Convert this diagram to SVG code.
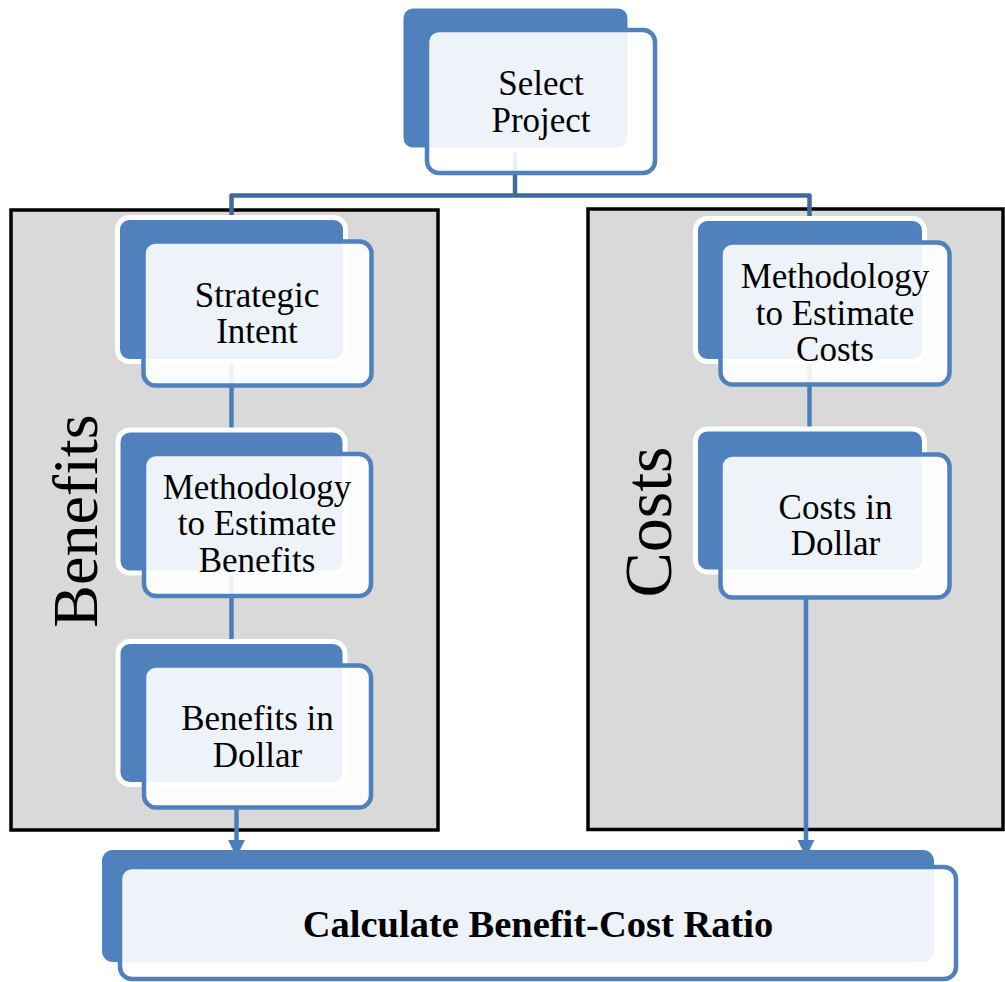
<svg xmlns="http://www.w3.org/2000/svg" width="1005" height="982" viewBox="0 0 1005 982">
  <style>
    .panel { fill: #D9D9D9; stroke: #000; stroke-width: 3.5; }
    .back { fill: #4F81BD; stroke: #FFFFFF; stroke-width: 5; }
    .backb { fill: #4F81BD; }
    .front { fill: #FFFFFF; fill-opacity: 0.9; stroke: #4F81BD; stroke-width: 4.5; }
    .lbl { font-family: "Liberation Serif", "Times New Roman", serif; font-size: 35px; fill: #000; text-anchor: middle; }
    .big { font-family: "Liberation Serif", "Times New Roman", serif; fill: #000; text-anchor: middle; }
    .bold { font-family: "Liberation Serif", "Times New Roman", serif; font-size: 38.5px; font-weight: bold; fill: #000; text-anchor: middle; }
    .tree { fill: none; stroke: #41699C; stroke-width: 4.5; stroke-linejoin: round; }
    .link { fill: none; stroke: #4A7EBB; stroke-width: 4.5; }
  </style>
  <defs>
    <marker id="arrow" viewBox="0 0 10 10" refX="3" refY="5" markerWidth="17" markerHeight="17" markerUnits="userSpaceOnUse" orient="auto">
      <path d="M0,0 L10,5 L0,10 z" fill="#4A7EBB"/>
    </marker>
  </defs>
  <rect width="1005" height="982" fill="#FFFFFF"/>

  <g id="panel-benefits">
    <rect class="panel" x="11" y="210" width="427" height="620"/>
    <text class="big" font-size="64" transform="translate(97,521) rotate(-90)">Benefits</text>
  </g>
  <g id="panel-costs">
    <rect class="panel" x="588" y="209" width="415" height="620.5"/>
    <text class="big" font-size="68" transform="translate(671,522) rotate(-90)">Costs</text>
  </g>

  <g id="connectors">
    <path class="tree" d="M515,150 V195.5"/>
    <path class="tree" d="M231.5,222 V195.5 H809.5 V222"/>
    <path class="link" d="M231.5,360 V432"/>
    <path class="link" d="M231.5,572 V643"/>
    <path class="link" d="M809.5,360 V431"/>
    <path class="link" d="M236.5,808 V845" marker-end="url(#arrow)"/>
    <path class="link" d="M806,598 V845" marker-end="url(#arrow)"/>
  </g>

  <g id="node-select-project">
    <rect class="back" x="401" y="6" width="229" height="144" rx="12"/>
    <rect class="front" x="427" y="30" width="228" height="143" rx="12"/>
    <text class="lbl" x="541" y="95">Select</text>
    <text class="lbl" x="541" y="132">Project</text>
  </g>

  <g id="node-strategic-intent">
    <rect class="back" x="117.5" y="217.5" width="228" height="144" rx="12"/>
    <rect class="front" x="143.5" y="241.5" width="228" height="144" rx="12"/>
    <text class="lbl" x="257" y="307">Strategic</text>
    <text class="lbl" x="257" y="343">Intent</text>
  </g>

  <g id="node-method-benefits">
    <rect class="back" x="118" y="430" width="227" height="143" rx="12"/>
    <rect class="front" x="144" y="454" width="227" height="142" rx="12"/>
    <text class="lbl" x="257" y="499">Methodology</text>
    <text class="lbl" x="257" y="535">to Estimate</text>
    <text class="lbl" x="257" y="572">Benefits</text>
  </g>

  <g id="node-benefits-dollar">
    <rect class="back" x="118" y="641.5" width="227" height="143" rx="12"/>
    <rect class="front" x="144" y="665.5" width="227" height="142" rx="12"/>
    <text class="lbl" x="257.5" y="730">Benefits in</text>
    <text class="lbl" x="257.5" y="767">Dollar</text>
  </g>

  <g id="node-method-costs">
    <rect class="back" x="695.5" y="218.5" width="229" height="143" rx="12"/>
    <rect class="front" x="720.5" y="242.5" width="229" height="142" rx="12"/>
    <text class="lbl" x="835" y="288">Methodology</text>
    <text class="lbl" x="835" y="325">to Estimate</text>
    <text class="lbl" x="835" y="361">Costs</text>
  </g>

  <g id="node-costs-dollar">
    <rect class="back" x="695.5" y="429" width="229" height="143" rx="12"/>
    <rect class="front" x="720.5" y="454.5" width="229" height="143" rx="12"/>
    <text class="lbl" x="835.5" y="519">Costs in</text>
    <text class="lbl" x="835.5" y="555">Dollar</text>
  </g>

  <g id="node-calculate">
    <rect class="backb" x="102" y="850" width="832" height="112" rx="11"/>
    <rect class="front" x="120" y="867" width="836" height="112" rx="12"/>
    <text class="bold" x="538" y="937">Calculate Benefit-Cost Ratio</text>
  </g>
</svg>
